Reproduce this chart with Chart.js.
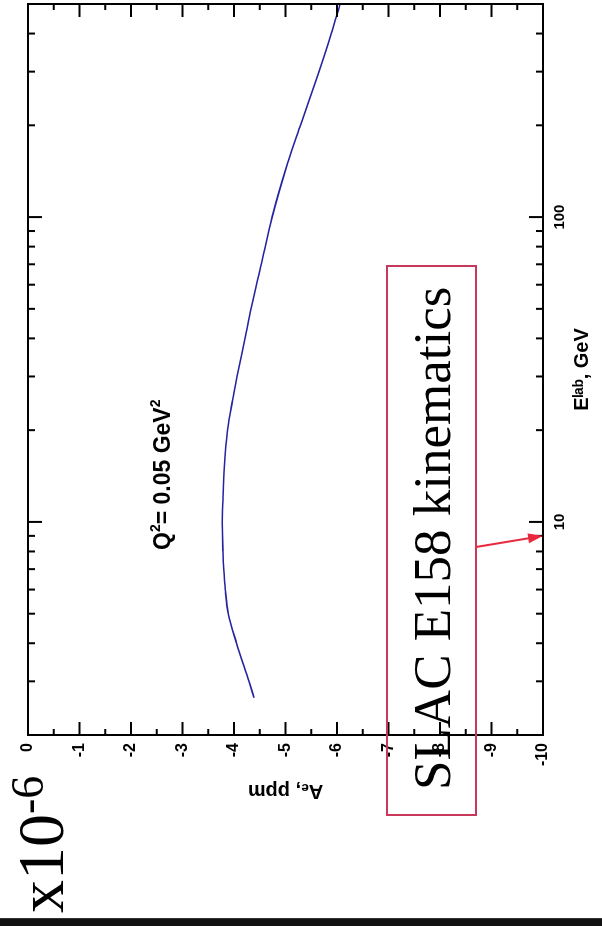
<!DOCTYPE html>
<html>
<head>
<meta charset="utf-8">
<script src="https://cdn.jsdelivr.net/npm/chart.js@4.4.0/dist/chart.umd.min.js"></script>
<style>
  html, body { margin: 0; padding: 0; background: #fff; }
  body { width: 602px; height: 926px; position: relative; overflow: hidden; }
  /* the plot is laid out landscape and turned a quarter turn to the left */
  #plot { position: absolute; left: 0; top: 0; width: 918px; height: 602px;
          transform-origin: 0 0; transform: translate(0, 918px) rotate(-90deg); }
  #bar { position: absolute; left: 0; top: 918px; width: 602px; height: 8px;
         background: #111; border-top: 1px solid #333; box-sizing: border-box; }
</style>
</head>
<body>
<div id="plot"><canvas id="chart" width="918" height="602"></canvas></div>
<div id="bar"></div>
<script>
// beam energy (GeV) and predicted asymmetry (ppm) at Q^2 = 0.05 GeV^2
const energyGeV = [2.65, 3, 4, 5, 6, 7, 8, 10, 12, 15, 20, 25, 30, 40, 50, 70, 100, 150, 200, 300, 400, 500];
const asymmetryPpm = [-4.39, -4.29, -4.05, -3.89, -3.83, -3.80, -3.785, -3.772, -3.786, -3.81, -3.875, -3.97,
                      -4.06, -4.215, -4.33, -4.53, -4.74, -5.04, -5.29, -5.65, -5.89, -6.06];
const energyTickLabels = [10, 100];
const energyRange = [2, 500];
const asymRange = [-10, 0];
const markedEnergy = 9; // where the E158 arrow lands

const sans = '"Liberation Sans", Arial, sans-serif';
const serif = '"Liberation Serif", "Times New Roman", serif';

// box frame with inward ticks on all four sides
const framePlugin = {
  id: 'frame',
  afterDraw(chart) {
    const { ctx, chartArea: a, scales: { x, y } } = chart;
    ctx.save();
    ctx.strokeStyle = '#000';
    ctx.lineWidth = 2;
    ctx.strokeRect(a.left, a.top, a.right - a.left, a.bottom - a.top);
    ctx.beginPath();
    for (let v = asymRange[1]; v >= asymRange[0]; v -= 0.5) {
      const py = y.getPixelForValue(v);
      const len = Number.isInteger(v) ? 13 : 6;
      ctx.moveTo(a.left, py); ctx.lineTo(a.left + len, py);
      ctx.moveTo(a.right, py); ctx.lineTo(a.right - len, py);
    }
    for (let d = 1; d <= 100; d *= 10) {
      for (let m = 1; m <= 9; m++) {
        const e = m * d;
        if (e < energyRange[0] || e > energyRange[1]) continue;
        const px = x.getPixelForValue(e);
        const len = m === 1 ? 14 : 7;
        ctx.moveTo(px, a.bottom); ctx.lineTo(px, a.bottom - len);
        ctx.moveTo(px, a.top); ctx.lineTo(px, a.top + len);
      }
    }
    ctx.stroke();
    ctx.restore();
  }
};

// text labels, scale factor and the E158 callout
const notesPlugin = {
  id: 'notes',
  afterDraw(chart) {
    const { ctx, chartArea: a, scales: { x } } = chart;
    ctx.save();
    ctx.fillStyle = '#000';
    ctx.textBaseline = 'alphabetic';

    // x10^-6 multiplier
    ctx.font = '66px ' + serif;
    ctx.fillText('x10', 5, 63);
    const w = ctx.measureText('x10').width;
    ctx.font = '46px ' + serif;
    ctx.fillText('-6', 5 + w, 43);

    // Q^2 label
    let cx = 368;
    const base = 170;
    const parts = [['Q', 23, 0], ['2', 14, -10], ['= 0.05 GeV', 23, 0], ['2', 14, -10]];
    parts.forEach(([t, size, dy]) => {
      ctx.font = 'bold ' + size + 'px ' + sans;
      ctx.fillText(t, cx, base + dy);
      cx += ctx.measureText(t).width;
    });

    // callout box
    ctx.strokeStyle = '#c8385a';
    ctx.lineWidth = 2;
    ctx.strokeRect(103, 387, 549, 89);
    ctx.font = '53px ' + serif;
    ctx.fillText('SLAC E158 kinematics', 128, 450);

    // arrow from the box to the beam energy on the axis
    const tx = x.getPixelForValue(markedEnergy), ty = a.bottom;
    const sx = 371, sy = 476;
    const ang = Math.atan2(ty - sy, tx - sx);
    ctx.strokeStyle = '#e8283c';
    ctx.fillStyle = '#e8283c';
    ctx.beginPath();
    ctx.moveTo(sx, sy);
    ctx.lineTo(tx - 12 * Math.cos(ang), ty - 12 * Math.sin(ang));
    ctx.stroke();
    ctx.beginPath();
    ctx.moveTo(tx, ty);
    ctx.lineTo(tx - 15 * Math.cos(ang) + 5 * Math.sin(ang), ty - 15 * Math.sin(ang) - 5 * Math.cos(ang));
    ctx.lineTo(tx - 15 * Math.cos(ang) - 5 * Math.sin(ang), ty - 15 * Math.sin(ang) + 5 * Math.cos(ang));
    ctx.closePath();
    ctx.fill();
    ctx.restore();
  }
};

new Chart(document.getElementById('chart'), {
  type: 'line',
  data: {
    datasets: [{
      data: energyGeV.map((e, i) => ({ x: e, y: asymmetryPpm[i] })),
      borderColor: '#2424a0',
      borderWidth: 1.6,
      pointRadius: 0,
      cubicInterpolationMode: 'monotone',
      fill: false
    }]
  },
  options: {
    responsive: false,
    animation: false,
    devicePixelRatio: 1,
    layout: { padding: { left: 110, right: 4, top: 28, bottom: 0 } },
    plugins: { legend: { display: false }, tooltip: { enabled: false } },
    scales: {
      x: {
        type: 'logarithmic',
        min: energyRange[0],
        max: energyRange[1],
        grid: { display: false, drawTicks: false },
        border: { display: false },
        afterBuildTicks: s => { s.ticks = energyTickLabels.map(v => ({ value: v })); },
        afterFit: s => { s.height = 59; },
        ticks: {
          padding: 8, maxRotation: 0, color: '#000',
          font: { family: sans, size: 15, weight: 'bold' },
          callback: v => String(v)
        },
        title: {
          display: true, text: 'Eˡᵃᵇ, GeV', color: '#000', padding: 8,
          font: { family: sans, size: 20, weight: 'bold' }
        }
      },
      y: {
        min: asymRange[0],
        max: asymRange[1],
        grid: { display: false, drawTicks: false },
        border: { display: false },
        afterFit: s => { s.width = 73; },
        ticks: {
          stepSize: 1, padding: 8, color: '#000',
          font: { family: sans, size: 16, weight: 'bold' }
        },
        title: {
          display: true, text: 'Aₑ, ppm', color: '#000', padding: 5,
          font: { family: sans, size: 20, weight: 'bold' }
        }
      }
    }
  },
  plugins: [framePlugin, notesPlugin]
});
</script>
</body>
</html>
